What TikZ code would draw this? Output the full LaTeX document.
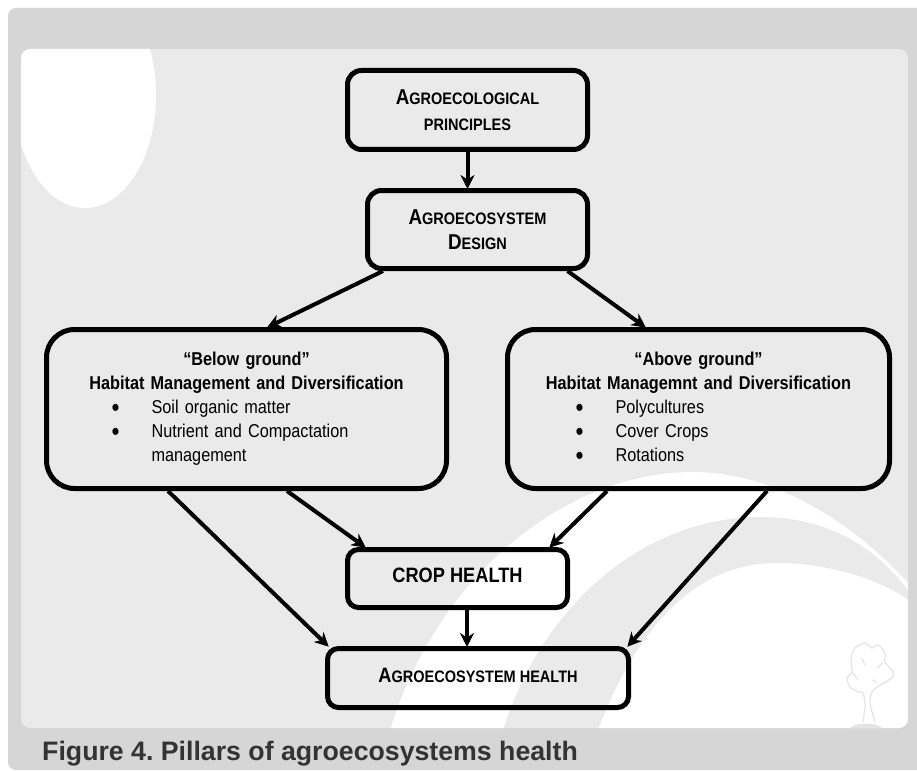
\documentclass[tikz,border=0pt]{standalone}
\usepackage{fontspec}
\setmainfont[FakeStretch=0.875]{Liberation Sans}
\newfontfamily\captionfont{Liberation Sans}
\usepackage{tikz}
\usetikzlibrary{positioning}
\usetikzlibrary{arrows.meta}

\definecolor{framegray}{HTML}{D6D6D6}
\definecolor{panelgray}{HTML}{EAEAEA}
\definecolor{treegray}{HTML}{E4E4E4}
\definecolor{captiongray}{HTML}{333333}

\newcommand{\lowcaps}[1]{{\fontsize{16.6}{17}\selectfont #1}}
\newcommand{\pillaritem}[1]{\strut\hspace*{95pt}\llap{\raisebox{-2.5pt}{\fontsize{26}{23}\selectfont\textbullet}\hspace*{32pt}}#1}
\frenchspacing

\begin{document}
\begin{tikzpicture}[
        x=1pt, y=-1pt, >={Stealth[length=14pt, width=14pt, inset=4.5pt]},
        title/.style={rectangle, rounded corners=14pt, draw=black, line width=5pt, align=center, font=\bfseries\fontsize{21.5}{25.5}\selectfont},
        pillar/.style={rectangle, rounded corners=28pt, draw=black, line width=5pt, minimum height=159pt, inner sep=0pt, align=left, font=\fontsize{18.6}{23.9}\selectfont},
        result/.style={rectangle, rounded corners=11pt, draw=black, line width=5pt, align=center, font=\bfseries\fontsize{20.8}{24}\selectfont},
        flow/.style={->, line width=4pt, shorten >=-1pt}
      ]
        \useasboundingbox (0,0) rectangle (917,770);
        \fill[white] (0,0) rectangle (917,770);
        \begin{scope}
          \clip (0,0) rectangle (917,770);
          \fill[framegray, rounded corners=8pt] (8,8) -- (8,770) -- (930,770) -- (930,8) -- cycle;
        \end{scope}

        % panel with its white shapes
        \begin{scope}
          \clip[rounded corners=9pt] (21,49) rectangle (908,728);
          \fill[panelgray] (21,49) rectangle (908,728);
          \fill[white] (85,95) ellipse [x radius=71, y radius=113];
          \fill[white] (390,730) .. controls (440,570) and (570,472) .. (693,472) .. controls (780,472) and (860,530) .. (908,583) -- (908,590) .. controls (870,540) and (820,517) .. (760,517) .. controls (640,517) and (540,610) .. (503,730) -- cycle;
          \fill[white] (598,730) .. controls (640,620) and (700,563) .. (777,563) .. controls (830,563) and (880,580) .. (908,600) -- (908,730) -- cycle;
          % tree
          \draw[treegray, line width=1.2pt] plot[smooth] coordinates {(863,722) (865,705) (863,693) (858,692) (850,687) (847,678) (852,672) (851,658) (855,648) (865,643) (872,648) (878,645) (885,653) (885,662) (893,672) (892,678) (880,685) (872,692) (870,703) (875,722)};
          \draw[treegray, line width=1.2pt] (862,658) -- (865,665);
          \draw[treegray, line width=1.2pt] (877,668) -- (883,663);
          \draw[treegray, line width=1.2pt] (872,680) -- (877,682);
          \draw[treegray, line width=1.2pt] (853,673) -- (858,680);
          \fill[treegray] (850,728) .. controls (855,722) and (875,722) .. (882,728) -- cycle;
        \end{scope}

        \node[title, minimum width=240pt, minimum height=79pt]  (principles)  at (467.5,110)  {A\lowcaps{GROECOLOGICAL}\\\lowcaps{PRINCIPLES}};
        \node[title, minimum width=220pt, minimum height=78pt]  (design)      [below=36pt of principles, xshift=10pt]  {A\lowcaps{GROECOSYSTEM}\\D\lowcaps{ESIGN}};

        \node[pillar, minimum width=400pt, text width=380pt]  (below)  at (246.5,409)  {\strut\makebox[380pt]{\bfseries ``Below ground''}\\
          \makebox[380pt]{\bfseries Habitat Management and Diversification}\\
          \pillaritem{Soil organic matter}\\
          \pillaritem{Nutrient and Compactation}\\
          \strut\hspace*{95pt}management};
        \node[pillar, minimum width=382pt, text width=356pt]  (above)  at (698.5,409)  {\strut\makebox[356pt]{\bfseries ``Above ground''}\\
          \makebox[356pt]{\bfseries Habitat Managemnt and Diversification}\\
          \pillaritem{Polycultures}\\
          \pillaritem{Cover Crops}\\
          \pillaritem{Rotations}};

        \node[result, minimum width=220pt, minimum height=58pt, text depth=6pt]  (crop)       at (457.5,578.5)  {CROP HEALTH};
        \node[result, minimum width=301pt, minimum height=59pt, text depth=5pt]  (ecohealth)  at (478,678)      {A\lowcaps{GROECOSYSTEM HEALTH}};

        \draw[flow]  (principles.south) -- ([xshift=-10pt]design.north);
        \draw[flow]  ([xshift=-94.5pt]design.south) -- ([xshift=21.5pt]below.north);
        \draw[flow]  ([xshift=90pt]design.south) -- ([xshift=-53.5pt]above.north);
        \draw[flow]  ([xshift=40.5pt]below.south) -- ([xshift=-92.5pt]crop.north);
        \draw[flow]  ([xshift=-78.5pt]below.south) -- ([xshift=-150pt]ecohealth.north);
        \draw[flow]  ([xshift=-91.5pt]above.south) -- ([xshift=92.5pt]crop.north);
        \draw[flow]  ([xshift=68.5pt]above.south) -- ([xshift=150pt]ecohealth.north);
        \draw[flow]  ([xshift=9.5pt]crop.south) -- ([xshift=-11pt]ecohealth.north);

        \node[anchor=west, inner sep=0pt, text=captiongray, font=\captionfont\bfseries\fontsize{26.7}{28}\selectfont]  (caption)  at (42,754)  {Figure 4. Pillars of agroecosystems health};
      \end{tikzpicture}
\end{document}
